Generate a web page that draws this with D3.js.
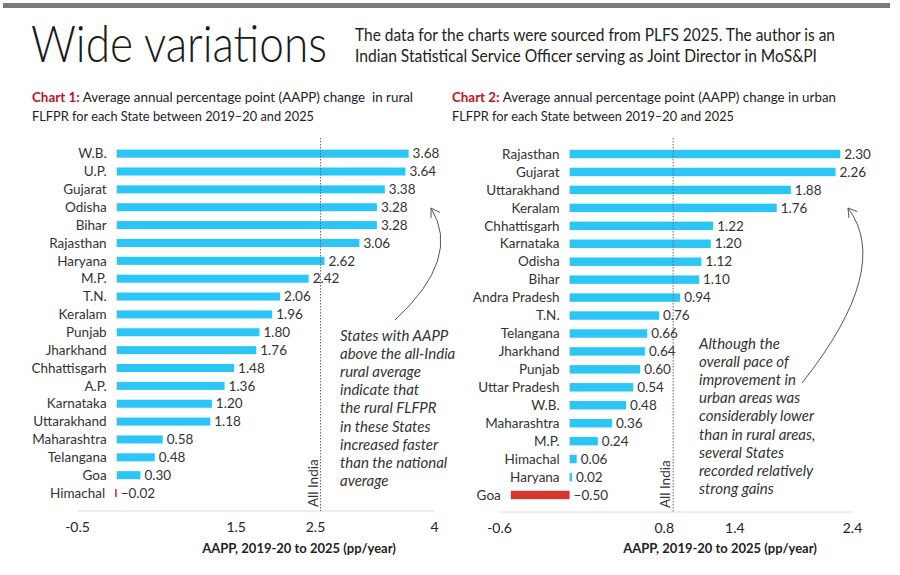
<!DOCTYPE html>
<html>
<head>
<meta charset="utf-8">
<script src="https://cdn.jsdelivr.net/npm/d3@7"></script>
<style>
  body { margin:0; background:#fff; }
  svg text { font-family: Lato, "Open Sans", sans-serif; fill:#222; }
</style>
</head>
<body>
<svg id="chart" width="900" height="575"></svg>
<script>
// chart 1 - rural
var states1 = ["W.B.","U.P.","Gujarat","Odisha","Bihar","Rajasthan","Haryana","M.P.","T.N.","Keralam","Punjab","Jharkhand","Chhattisgarh","A.P.","Karnataka","Uttarakhand","Maharashtra","Telangana","Goa","Himachal"];
var values1 = [3.68,3.64,3.38,3.28,3.28,3.06,2.62,2.42,2.06,1.96,1.80,1.76,1.48,1.36,1.20,1.18,0.58,0.48,0.30,-0.02];
var ticks1 = [-0.5,1.5,2.5,4];
var allIndia1 = 2.57;

// chart 2 - urban
var states2 = ["Rajasthan","Gujarat","Uttarakhand","Keralam","Chhattisgarh","Karnataka","Odisha","Bihar","Andra Pradesh","T.N.","Telangana","Jharkhand","Punjab","Uttar Pradesh","W.B.","Maharashtra","M.P.","Himachal","Haryana","Goa"];
var values2 = [2.30,2.26,1.88,1.76,1.22,1.20,1.12,1.10,0.94,0.76,0.66,0.64,0.60,0.54,0.48,0.36,0.24,0.06,0.02,-0.50];
var ticks2 = [-0.6,0.8,1.4,2.4];
var allIndia2 = 0.88;

var note1 = ["States with AAPP","above the all-India","rural average","indicate that","the rural FLFPR","in these States","increased faster","than the national","average"];
var note2 = ["Although the","overall pace of","improvement in","urban areas was","considerably lower","than in rural areas,","several States","recorded relatively","strong gains"];

var svg = d3.select("#chart");

// top rule
svg.append("rect").attr("x",3).attr("y",3).attr("width",887).attr("height",5).attr("fill","#7a7a7a");

svg.append("text").attr("x",31).attr("y",62).text("Wide variations")
  .attr("textLength",296).attr("lengthAdjust","spacingAndGlyphs")
  .style("font-size","51px").style("font-weight",300).style("fill","#1a1a1a");

svg.append("text").attr("x",355).attr("y",41).style("font-size","16.5px")
  .attr("textLength",480).attr("lengthAdjust","spacingAndGlyphs")
  .text("The data for the charts were sourced from PLFS 2025. The author is an");
svg.append("text").attr("x",355).attr("y",62).style("font-size","16.5px")
  .attr("textLength",462).attr("lengthAdjust","spacingAndGlyphs")
  .text("Indian Statistical Service Officer serving as Joint Director in MoS&PI");

function heading(x, num, l1, l2, w1, w2){
  var t = svg.append("text").attr("x",x).attr("y",102).style("font-size","14px")
    .attr("textLength",w1).attr("lengthAdjust","spacingAndGlyphs").attr("xml:space","preserve");
  t.append("tspan").text("Chart "+num+": ").style("font-weight",700).style("fill","#c0121b");
  t.append("tspan").text(l1);
  svg.append("text").attr("x",x).attr("y",121).style("font-size","14px")
    .attr("textLength",w2).attr("lengthAdjust","spacingAndGlyphs").text(l2);
}
heading(32,1,"Average annual percentage point (AAPP) change  in rural","FLFPR for each State between 2019\u201320 and 2025",381,282);
heading(452,2,"Average annual percentage point (AAPP) change in urban","FLFPR for each State between 2019\u201320 and 2025",384,282);

function drawChart(opt){
  var x = d3.scaleLinear().domain(opt.domain).range(opt.range);
  var y = d3.scaleBand().domain(opt.states).range(opt.yRange).padding(opt.pad);
  var g = svg.append("g");
  var data = opt.states.map(function(s,i){ return {s:s, v:opt.values[i]}; });

  // axis
  var ax = g.append("g").attr("transform","translate(0,"+opt.axisY+")")
    .call(d3.axisBottom(x).tickValues(opt.ticks).tickSize(0).tickPadding(11)
      .tickFormat(function(d){ return String(d); }));
  ax.select(".domain").attr("stroke","#dcdcdc").attr("d","M"+(opt.range[0])+",0H"+(opt.range[1]+1));
  ax.selectAll("text").style("font-size","14px").style("fill","#222").style("font-family","Lato, sans-serif");

  svg.append("text").attr("x",opt.titleX).attr("y",553).attr("text-anchor","middle")
    .style("font-size","13px").style("font-weight",700).style("fill","#222")
    .text("AAPP, 2019-20 to 2025 (pp/year)");

  // bars
  g.selectAll("rect.bar").data(data).enter().append("rect")
    .attr("x", function(d){ return x(Math.min(0,d.v)); })
    .attr("y", function(d){ return y(d.s); })
    .attr("width", function(d){ return Math.max(1.5, Math.abs(x(d.v)-x(0))); })
    .attr("height", y.bandwidth())
    .attr("fill", function(d){ return d.v<0 ? "#d2382c" : "#2bc6f5"; });

  // state labels
  g.selectAll("text.state").data(data).enter().append("text")
    .attr("x", function(d){ return x(Math.min(0,d.v)) - 10; })
    .attr("y", function(d){ return y(d.s)+y.bandwidth()/2; })
    .attr("dy","0.35em").attr("text-anchor","end")
    .style("font-size","13.5px").style("fill","#333")
    .text(function(d){ return d.s; });

  // value labels
  g.selectAll("text.val").data(data).enter().append("text")
    .attr("x", function(d){ return Math.max(x(d.v), x(0)) + 4; })
    .attr("y", function(d){ return y(d.s)+y.bandwidth()/2; })
    .attr("dy","0.35em")
    .style("font-size","13.5px").style("fill","#333")
    .text(function(d){ return d3.format(".2f")(d.v); });

  // all India reference
  var ax0 = x(opt.allIndia);
  g.append("line").attr("x1",ax0).attr("x2",ax0).attr("y1",138).attr("y2",opt.axisY)
    .attr("stroke","#666").attr("stroke-width",1).attr("stroke-dasharray","1.5,1.5");
  g.append("text").attr("transform","translate("+(ax0-3)+","+(opt.axisY-4)+") rotate(-90)")
    .style("font-size","13.5px").style("fill","#333").text("All India");

  // note
  var nt = g.append("text").style("font-size","15px").style("font-style","italic").style("fill","#333");
  opt.note.forEach(function(l,i){
    nt.append("tspan").attr("x",opt.noteX).attr("y",opt.noteY+i*18.1).text(l);
  });

  // curved arrow
  var a = opt.arrow;
  g.append("path").attr("d","M"+a[0]+","+a[1]+" Q"+a[2]+","+a[3]+" "+a[4]+","+a[5])
    .attr("fill","none").attr("stroke","#555").attr("stroke-width",1);
  var ang = Math.atan2(a[5]-a[3], a[4]-a[2]);
  var hl = 10, spread = 0.55;
  g.append("path").attr("d",
      "M"+(a[4]-hl*Math.cos(ang-spread))+","+(a[5]-hl*Math.sin(ang-spread))+
      " L"+a[4]+","+a[5]+
      " L"+(a[4]-hl*Math.cos(ang+spread))+","+(a[5]-hl*Math.sin(ang+spread)))
    .attr("fill","none").attr("stroke","#555").attr("stroke-width",1);
}

drawChart({states:states1, values:values1, domain:[-0.5,4], range:[77,434], yRange:[139.8,506.9], pad:0.55,
  axisY:511, ticks:ticks1, allIndia:allIndia1, titleX:299, note:note1, noteX:340, noteY:341,
  arrow:[395,320,462,258,431,208]});
drawChart({states:states2, values:values2, domain:[-0.6,2.4], range:[499,852], yRange:[140.3,508.7], pad:0.53,
  axisY:512, ticks:ticks2, allIndia:allIndia2, titleX:720, note:note2, noteX:699, noteY:349,
  arrow:[802,383,893,268,848,208]});
</script>
</body>
</html>
